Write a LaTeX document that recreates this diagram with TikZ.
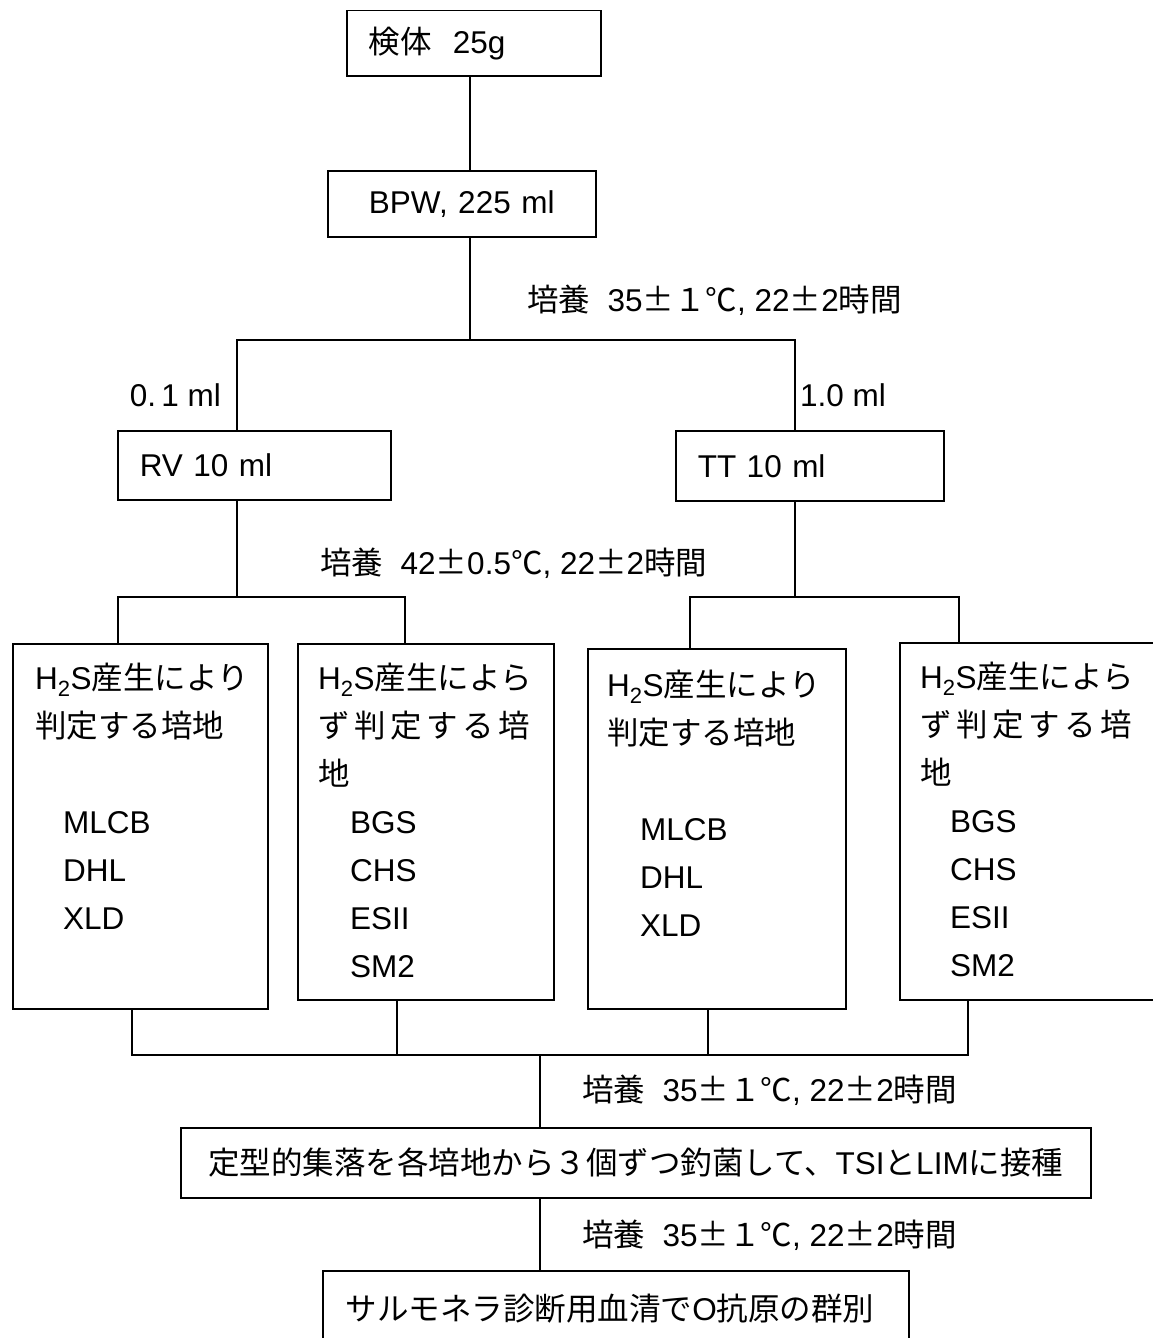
\documentclass[tikz,border=0pt]{standalone}
\usepackage{fontspec}
\setmainfont{Liberation Sans}
\newfontfamily\jp{Noto Sans CJK JP}
\usetikzlibrary{positioning}

\newcommand{\incub}[1]{{\jp 培養}\ \ #1, 22{\jp ±}2{\jp 時間}}

\begin{document}
\begin{tikzpicture}[x=1pt, y=-1pt,
    every node/.style={font=\fontsize{31.5pt}{48pt}\selectfont},
    box/.style={draw, line width=1.5pt, inner xsep=22pt, inner ysep=0pt, align=left, anchor=north west},
    tall/.style={draw, line width=1.5pt, inner sep=0pt, anchor=north west},
    txt/.style={inner sep=0pt, align=left},
    link/.style={line width=1.3pt}]
    \useasboundingbox (0,0) rectangle (1153,1338);

    % boxes
    \node[box, text width=210pt, minimum height=65pt] (sample) at (346,10) {{\jp 検体}\ \ 25g};
    \node[box, text width=224pt, minimum height=66pt, align=center] (bpw) at (327,170) {BPW, 225 ml};
    \node[box, text width=229pt, minimum height=69pt] (rv) at (117,430) {RV 10 ml};
    \node[box, text width=224pt, minimum height=70pt] (tt) at (675,430) {TT 10 ml};
    \node[tall, minimum width=255pt, minimum height=365pt] (m1) at (12,643) {};
    \node[tall, minimum width=256pt, minimum height=356pt] (m2) at (297,643) {};
    \node[tall, minimum width=258pt, minimum height=360pt] (m3) at (587,648) {};
    \node[tall, minimum width=270pt, minimum height=357pt] (m4) at (899,642) {};
    \node[box, inner xsep=10pt, text width=890pt, minimum height=70pt, align=center] (tsi) at (180,1127)
        {{\jp 定型的集落を各培地から３個ずつ釣菌して、}TSI{\jp と}LIM{\jp に接種}};
    \node[box, inner xsep=23pt, text width=540pt, minimum height=76pt] (sero) at (322,1270)
        {{\jp サルモネラ診断用血清で}O{\jp 抗原の群別}};

    % media lists
    \node[txt, below right=20pt and 23pt of m1.north west] (m1t)
        {H\textsubscript{2}S{\jp 産生により}\\{\jp 判定する培地}\\[48pt]
         \hspace*{28pt}MLCB\\\hspace*{28pt}DHL\\\hspace*{28pt}XLD};
    \node[txt, below right=20pt and 21pt of m2.north west] (m2t)
        {H\textsubscript{2}S{\jp 産生によら}\\
         \makebox[212pt][s]{\jp ず\hfill 判\hfill 定\hfill す\hfill る\hfill 培}\\{\jp 地}\\
         \hspace*{32pt}BGS\\\hspace*{32pt}CHS\\\hspace*{32pt}ESII\\\hspace*{32pt}SM2};
    \node[txt, below right=22pt and 20pt of m3.north west] (m3t)
        {H\textsubscript{2}S{\jp 産生により}\\{\jp 判定する培地}\\[48pt]
         \hspace*{33pt}MLCB\\\hspace*{33pt}DHL\\\hspace*{33pt}XLD};
    \node[txt, below right=20pt and 21pt of m4.north west] (m4t)
        {H\textsubscript{2}S{\jp 産生によら}\\
         \makebox[212pt][s]{\jp ず\hfill 判\hfill 定\hfill す\hfill る\hfill 培}\\{\jp 地}\\
         \hspace*{30pt}BGS\\\hspace*{30pt}CHS\\\hspace*{30pt}ESII\\\hspace*{30pt}SM2};

    % junctions
    \coordinate (j1) at (470,340);
    \coordinate (rvx) at (237,340);
    \coordinate (ttx) at (795,340);
    \coordinate (a1) at (118,597);
    \coordinate (a2) at (405,597);
    \coordinate (a3) at (690,597);
    \coordinate (a4) at (959,597);
    \coordinate (b1) at (132,1055);
    \coordinate (b2) at (397,1055);
    \coordinate (b3) at (708,1055);
    \coordinate (b4) at (968,1055);
    \coordinate (j3) at (540,1055);

    % connectors
    \draw[link] (sample.south -| j1) -- (bpw.north -| j1);
    \draw[link] (bpw.south -| j1) -- (j1);
    \draw[link] (rv.north -| rvx) -- (rvx) -- (ttx) -- (tt.north -| ttx);
    \draw[link] (rv.south -| rvx) -- (rvx |- a1);
    \draw[link] (m1.north -| a1) -- (a1) -- (a2) -- (m2.north -| a2);
    \draw[link] (tt.south -| ttx) -- (ttx |- a3);
    \draw[link] (m3.north -| a3) -- (a3) -- (a4) -- (m4.north -| a4);
    \draw[link] (m1.south -| b1) -- (b1) -- (b4) -- (m4.south -| b4);
    \draw[link] (m2.south -| b2) -- (b2);
    \draw[link] (m3.south -| b3) -- (b3);
    \draw[link] (j3) -- (tsi.north -| j3);
    \draw[link] (tsi.south -| j3) -- (sero.north -| j3);

    % labels
    \node[txt, anchor=east] (v1) at (221,395) {0.\,1 ml};
    \node[txt, anchor=west] (v2) at (800,395) {1.0 ml};
    \node[txt, anchor=west] (inc1) at (527,300) {\incub{35{\jp ±１℃}}};
    \node[txt, anchor=west] (inc2) at (320,563) {\incub{42{\jp ±}0.5{\jp ℃}}};
    \node[txt, anchor=west] (inc3) at (582,1090) {\incub{35{\jp ±１℃}}};
    \node[txt, anchor=west] (inc4) at (582,1235) {\incub{35{\jp ±１℃}}};
\end{tikzpicture}
\end{document}
